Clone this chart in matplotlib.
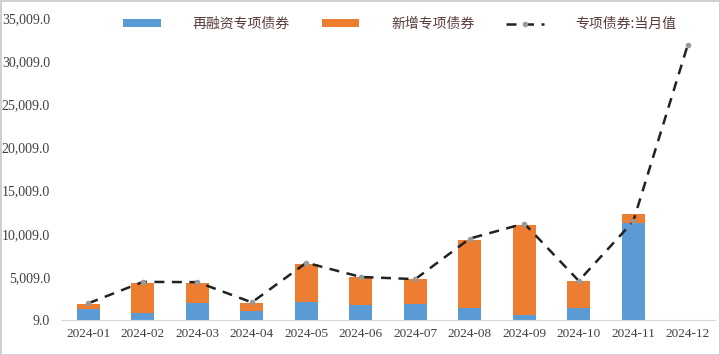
import matplotlib
matplotlib.use("Agg")
import matplotlib.pyplot as plt
from matplotlib.ticker import FixedLocator, FuncFormatter

months = ["2024-01", "2024-02", "2024-03", "2024-04", "2024-05", "2024-06",
          "2024-07", "2024-08", "2024-09", "2024-10", "2024-11", "2024-12"]
refinance = [1240, 850, 2000, 1040, 2120, 1740, 1850, 1350, 580, 1390, 11260, 0]
new_issue = [610, 3470, 2250, 890, 4360, 3270, 2890, 7910, 10490, 3160, 1000, 0]
monthly_total = [1950, 4430, 4400, 2050, 6650, 5000, 4750, 9450, 11200, 4550, 11450, 31900]
yticks = [9.0, 5009.0, 10009.0, 15009.0, 20009.0, 25009.0, 30009.0, 35009.0]

plt.rcParams['font.family'] = ['Liberation Serif', 'Noto Sans CJK SC', 'DejaVu Sans']

fig = plt.figure(figsize=(7.2, 3.55), dpi=100)
fig.patch.set_edgecolor('#d0d0d0')
fig.patch.set_linewidth(2)
ax = fig.add_axes([0.085, 0.0986, 0.908, 0.85])

x = list(range(len(months)))
b1 = ax.bar(x, refinance, width=0.42, color='#5B9BD5', label='再融资专项债券', zorder=2)
b2 = ax.bar(x, new_issue, width=0.42, bottom=refinance, color='#ED7D31', label='新增专项债券', zorder=2)
l1, = ax.plot(x, monthly_total, linestyle=(0, (4, 3)), color='#222222', linewidth=1.8,
              marker='o', markersize=3, markerfacecolor='#999999', markeredgecolor='#999999',
              label='专项债券:当月值', zorder=3)

ax.set_xlim(-0.5, 11.5)
ax.set_ylim(9, 35009)
ax.yaxis.set_major_locator(FixedLocator(yticks))
ax.yaxis.set_major_formatter(FuncFormatter(lambda v, p: f"{v:,.1f}"))
ax.set_xticks(x)
ax.set_xticklabels(months)
ax.tick_params(axis='y', length=0, labelsize=10, colors='#404040', pad=8)
ax.tick_params(axis='x', length=0, labelsize=9.5, colors='#404040', pad=6)
for s in ['top', 'right', 'left']:
    ax.spines[s].set_visible(False)
ax.spines['bottom'].set_color('#d9d9d9')

leg = fig.legend(handles=[b1, b2, l1], loc='upper left', bbox_to_anchor=(123 / 720, 1 - 17 / 355),
                 ncol=3, frameon=False, borderpad=0, borderaxespad=0,
                 handlelength=2.7, handleheight=0.45, columnspacing=2.3, handletextpad=2.3,
                 prop={'family': ['Noto Sans CJK SC'], 'size': 10})
for t in leg.get_texts():
    t.set_color('#5a3a3a')

fig.savefig("out.png", dpi=100)
